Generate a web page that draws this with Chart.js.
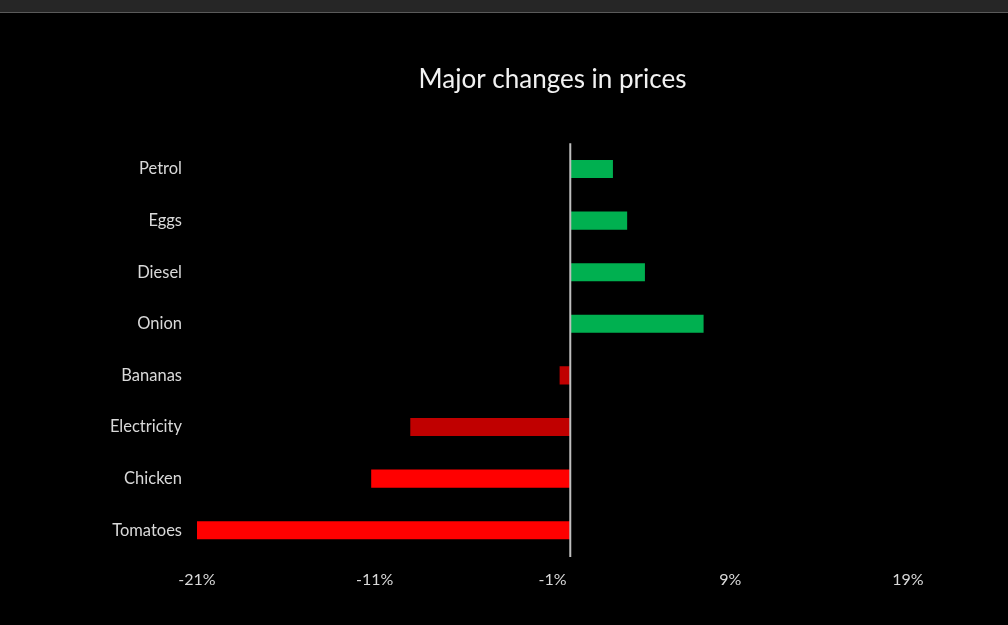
<!DOCTYPE html>
<html>
<head>
<meta charset="utf-8">
<script src="https://cdn.jsdelivr.net/npm/chart.js@4"></script>
<style>
    html, body { margin: 0; padding: 0; background: #000; overflow: hidden; }
    #topbar { height: 12px; background: #262626; border-bottom: 1px solid #5a5a5a; }
    #wrap { position: relative; width: 1008px; height: 612px; }
</style>
</head>
<body>
<div id="topbar"></div>
<div id="wrap"><canvas id="chart"></canvas></div>
<script>
// Данные графика
var categories = ['Petrol', 'Eggs', 'Diesel', 'Onion', 'Bananas', 'Electricity', 'Chicken', 'Tomatoes'];
var changes = [2.4, 3.2, 4.2, 7.5, -0.6, -9.0, -11.2, -21.0];
var barColors = ['#00B050', '#00B050', '#00B050', '#00B050', '#C00000', '#C00000', '#FF0000', '#FF0000'];
var xTicks = [-21, -11, -1, 9, 19];

// Вертикальная линия на нуле
var zeroLine = {
    id: 'zeroLine',
    afterDatasetsDraw: function (chart) {
        var ctx = chart.ctx;
        var x = chart.scales.x.getPixelForValue(0);
        ctx.save();
        ctx.strokeStyle = '#bfbfbf';
        ctx.lineWidth = 2;
        ctx.beginPath();
        ctx.moveTo(x, chart.chartArea.top);
        ctx.lineTo(x, chart.chartArea.bottom + 1);
        ctx.stroke();
        ctx.restore();
    }
};

var ctx = document.getElementById('chart').getContext('2d');
var chart = new Chart(ctx, {
    type: 'bar',
    data: {
        labels: categories,
        datasets: [{
            data: changes,
            backgroundColor: barColors,
            borderWidth: 0,
            barPercentage: 0.35,
            categoryPercentage: 1
        }]
    },
    options: {
        indexAxis: 'y',
        responsive: true,
        maintainAspectRatio: false,
        animation: false,
        layout: { padding: { left: 0, right: 100, top: 0, bottom: 0 } },
        plugins: {
            legend: { display: false },
            tooltip: { enabled: false },
            title: {
                display: true,
                text: 'Major changes in prices',
                color: '#f2f2f2',
                fullSize: false,
                font: { family: 'Lato', size: 26, weight: 'normal' },
                padding: { top: 51, bottom: 48 }
            }
        },
        scales: {
            x: {
                min: -21,
                max: 19,
                afterBuildTicks: function (axis) {
                    axis.ticks = xTicks.map(function (v) { return { value: v }; });
                },
                afterFit: function (axis) { axis.height = 69; },
                grid: { display: false, drawTicks: false },
                border: { display: false },
                ticks: {
                    color: '#d9d9d9',
                    padding: 14,
                    font: { family: 'Lato', size: 16 },
                    callback: function (v) { return v + '%'; }
                }
            },
            y: {
                afterFit: function (axis) { axis.width = 197; },
                grid: { display: false, drawTicks: false },
                border: { display: false },
                ticks: {
                    color: '#d9d9d9',
                    padding: 15,
                    font: { family: 'Lato', size: 16.5 }
                }
            }
        }
    },
    plugins: [zeroLine]
});
</script>
</body>
</html>
